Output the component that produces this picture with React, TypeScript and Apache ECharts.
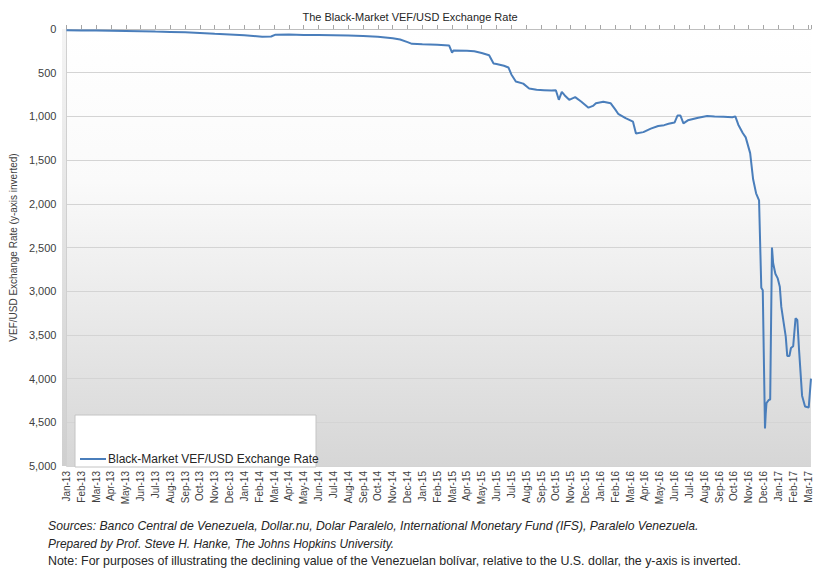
import React, { useEffect, useRef } from "react";
import * as echarts from "echarts";

const titleText = "The Black-Market VEF/USD Exchange Rate";
const yAxisTitle = "VEF/USD Exchange Rate (y-axis inverted)";
const seriesName = "Black-Market VEF/USD Exchange Rate";
const monthNames = ["Jan", "Feb", "Mar", "Apr", "May", "Jun", "Jul", "Aug", "Sep", "Oct", "Nov", "Dec"];
const years = ["13", "14", "15", "16", "17"];
const tickLabels: string[] = [];
years.forEach((y) => monthNames.forEach((m) => tickLabels.push(`${m}-${y}`)));

// position in months since Jan-13
const monthPos = [
  0, 1, 2, 3, 4, 5, 6, 7, 8, 9, 10, 11, 12, 12.6, 13.2, 13.8, 14.1, 15, 16, 17, 18, 19, 20, 21,
  22, 22.5, 23, 23.3, 24, 25, 25.8, 26.0, 26.1, 27, 27.5, 28, 28.5, 28.8, 29.0, 29.5, 29.8,
  30.0, 30.3, 30.8, 31.2, 31.7, 32.2, 32.7, 33.0, 33.2, 33.4, 33.6, 33.9, 34.3, 34.7, 35.2, 35.5,
  35.7, 36.2, 36.7, 37.0, 37.2, 37.7, 38.2, 38.4, 38.9, 39.4, 39.9, 40.3, 40.6, 41.0, 41.2,
  41.4, 41.6, 41.9, 42.6, 43.2, 43.7, 44.3, 44.9, 45.1, 45.3, 45.6, 45.8, 46.1, 46.3, 46.5,
  46.7, 46.85, 46.95, 47.1, 47.15, 47.2, 47.35, 47.45, 47.57, 47.65, 47.8, 47.95, 48.1, 48.2,
  48.35, 48.5, 48.6, 48.75, 48.85, 49.0, 49.16, 49.28, 49.4, 49.6, 49.8, 50.05, 50.2,
];
// VEF per USD
const rate = [
  15, 16, 18, 20, 22, 25, 30, 33, 38, 45, 55, 62, 72, 80, 88, 86, 65, 62, 68, 70, 72, 75, 80, 90,
  105, 120, 150, 170, 175, 180, 188, 270, 245, 250, 255, 275, 300, 395, 400, 420, 440,
  520, 600, 625, 680, 695, 700, 705, 700, 810, 720, 760, 810, 780, 830, 900, 880,
  850, 832, 850, 920, 970, 1020, 1060, 1195, 1180, 1140, 1110, 1100, 1085, 1070, 990,
  990, 1080, 1045, 1015, 995, 1000, 1005, 1010, 1000, 1095, 1190, 1240, 1420, 1720, 1880,
  1960, 2960, 2990, 4570, 4400, 4280, 4245, 4240, 2500, 2680, 2800, 2850, 2950, 3180,
  3350, 3520, 3740, 3740, 3650, 3630, 3310, 3330, 3680, 4195, 4320, 4330, 4000,
];
const footnotes = [
  "Sources: Banco Central de Venezuela, Dollar.nu, Dolar Paralelo, International Monetary Fund (IFS), Paralelo Venezuela.",
  "Prepared by Prof. Steve H. Hanke, The Johns Hopkins University.",
  "Note: For purposes of illustrating the declining value of the Venezuelan bolívar, relative to the U.S. dollar, the y-axis is inverted.",
];

const FONT = "Liberation Sans, Arial, sans-serif";

export default function App() {
  const ref = useRef<HTMLDivElement>(null);
  useEffect(() => {
    if (!ref.current) return;
    const chart = echarts.init(ref.current, undefined, { renderer: "svg" });
    const data = monthPos.map((m, i) => [m, rate[i]]);
    const noteSizes = [12.2, 11.9, 12.4];
    chart.setOption({
      animation: false,
      backgroundColor: "#ffffff",
      textStyle: { fontFamily: FONT },
      title: {
        text: titleText,
        left: 405,
        top: 6,
        textAlign: "center",
        textStyle: { fontSize: 11, fontWeight: "normal", color: "#262626", fontFamily: FONT },
      },
      grid: {
        left: 66,
        right: 0,
        top: 29,
        bottom: 103,
        show: true,
        borderWidth: 0,
        backgroundColor: new echarts.graphic.LinearGradient(0, 0, 0, 1, [
          { offset: 0, color: "#ffffff" },
          { offset: 0.35, color: "#fafafa" },
          { offset: 1, color: "#d6d6d6" },
        ]),
      },
      xAxis: {
        type: "value",
        min: 0,
        max: 50.2,
        interval: 1,
        axisLine: { show: true, lineStyle: { color: "#bfbfbf" } },
        axisTick: { show: true, inside: true, length: 4, lineStyle: { color: "#a6a6a6" } },
        splitLine: { show: false },
        axisLabel: {
          rotate: 90,
          fontSize: 10,
          color: "#404040",
          margin: 5,
          fontFamily: FONT,
          formatter: (v: number) =>
            Math.abs(v - Math.round(v)) < 1e-6 ? tickLabels[Math.round(v)] ?? "" : "",
        },
      },
      yAxis: {
        type: "value",
        inverse: true,
        min: 0,
        max: 5000,
        interval: 500,
        name: yAxisTitle,
        nameLocation: "middle",
        nameRotate: 90,
        nameGap: 47,
        nameTextStyle: { fontSize: 10, color: "#404040", fontFamily: FONT },
        axisLine: { show: true, lineStyle: { color: "#d0d0d0", width: 1 } },
        axisTick: { show: false },
        splitLine: { lineStyle: { color: "#d4d4d4", width: 1 } },
        axisLabel: {
          fontSize: 11,
          color: "#404040",
          margin: 10,
          fontFamily: FONT,
          formatter: (v: number) => v.toLocaleString("en-US"),
        },
      },
      legend: {
        left: 75,
        top: 448,
        icon: "rect",
        itemWidth: 26,
        itemHeight: 2,
        itemGap: 4,
        textStyle: { fontSize: 12, color: "#262626", fontFamily: FONT, padding: [0, 0, 0, -3] },
        data: [seriesName],
        z: 10,
      },
      graphic: [
        {
          type: "rect",
          left: 62,
          top: 29,
          shape: { width: 4, height: 437 },
          style: {
            fill: new echarts.graphic.LinearGradient(0, 0, 0, 1, [
              { offset: 0, color: "#f4f4f4" },
              { offset: 1, color: "#cfcfcf" },
            ]),
          },
          z: 0,
        },
        {
          type: "rect",
          shape: { x: 75, y: 415, width: 241, height: 52 },
          style: { fill: "#ffffff", stroke: "#c4c4c4", lineWidth: 1 },
          z: 5,
        },
        ...footnotes.map((t, i) => ({
          type: "text",
          x: 48,
          y: 526 + i * 17.5,
          style: {
            text: t,
            fontSize: noteSizes[i],
            fontStyle: i < 2 ? "italic" : "normal",
            fontFamily: FONT,
            fill: "#262626",
            textVerticalAlign: "middle",
          },
        })),
      ],
      series: [
        {
          name: seriesName,
          type: "line",
          data,
          showSymbol: false,
          symbol: "none",
          lineStyle: { color: "#4a7ebb", width: 2 },
          itemStyle: { color: "#4a7ebb" },
          z: 3,
        },
      ],
    });
    return () => chart.dispose();
  }, []);
  return (
    <div
      ref={ref}
      style={{ position: "fixed", left: 0, top: 0, width: 813, height: 569 }}
    />
  );
}
